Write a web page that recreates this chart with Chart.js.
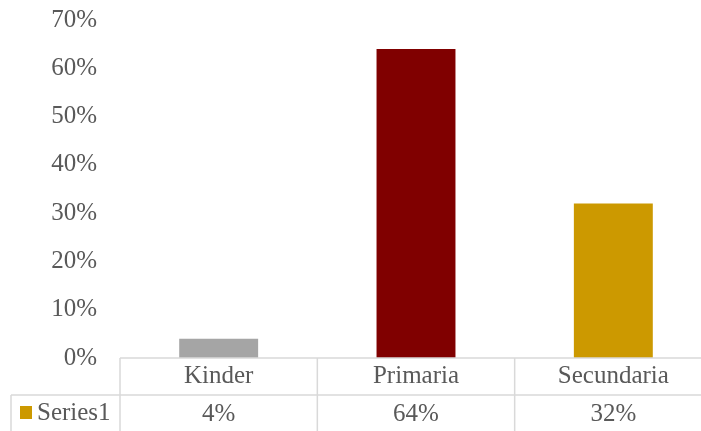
<!DOCTYPE html>
<html>
<head>
<meta charset="utf-8">
<script src="https://cdn.jsdelivr.net/npm/chart.js@4"></script>
<style>
  html, body { margin: 0; padding: 0; background: #fff; overflow: hidden; }
</style>
</head>
<body>
<canvas id="myChart" width="712" height="431"></canvas>
<script>
// data
const categories = ["Kinder", "Primaria", "Secundaria"];
const seriesName = "Series1";
const values = [0.04, 0.64, 0.32];
const valueLabels = ["4%", "64%", "32%"];
const barColors = ['#A5A5A5', '#800000', '#CC9900'];
const legendColor = '#CC9900';

const textColor = '#595959';
const lineColor = '#D9D9D9';
const fontFamily = '"Liberation Serif", serif';

// draws the data table under the bars
const dataTable = {
  id: 'dataTable',
  afterDraw(chart) {
    const ctx = chart.ctx;
    const x = chart.scales.x;
    const top = chart.chartArea.bottom;
    const rowH = 37;
    const mid = top + rowH;
    const bottom = chart.height;
    const half = (x.right - x.left) / categories.length / 2;

    ctx.save();
    ctx.strokeStyle = lineColor;
    ctx.lineWidth = 1.5;
    ctx.beginPath();
    ctx.moveTo(x.left, top); ctx.lineTo(x.right, top);
    ctx.moveTo(11, mid); ctx.lineTo(x.right, mid);
    ctx.moveTo(11, mid); ctx.lineTo(11, bottom);
    for (let i = 0; i < categories.length; i++) {
      const c = x.getPixelForValue(i);
      ctx.moveTo(c - half, top); ctx.lineTo(c - half, bottom);
      ctx.moveTo(c + half, top); ctx.lineTo(c + half, bottom);
    }
    ctx.stroke();

    ctx.fillStyle = textColor;
    ctx.font = '25px ' + fontFamily;
    ctx.textAlign = 'center';
    ctx.textBaseline = 'middle';
    for (let i = 0; i < categories.length; i++) {
      const c = x.getPixelForValue(i);
      ctx.fillText(categories[i], c, top + rowH / 2);
      ctx.fillText(valueLabels[i], c, mid + 19);
    }
    ctx.textAlign = 'left';
    ctx.fillText(seriesName, 37, mid + 18);
    ctx.fillStyle = legendColor;
    ctx.fillRect(20, mid + 11, 12, 13);
    ctx.restore();
  }
};

const chart1 = new Chart(document.getElementById('myChart').getContext('2d'), {
  type: 'bar',
  data: {
    labels: categories,
    datasets: [{
      label: seriesName,
      data: values,
      backgroundColor: barColors,
      categoryPercentage: 1,
      barPercentage: 0.4
    }]
  },
  options: {
    responsive: false,
    animation: false,
    layout: { padding: 0 },
    plugins: {
      legend: { display: false },
      tooltip: { enabled: false }
    },
    scales: {
      x: {
        grid: { display: false },
        border: { display: false },
        ticks: { display: false },
        afterFit(scale) { scale.height = 73; }
      },
      y: {
        min: 0,
        max: 0.7,
        grid: { display: false, drawTicks: false },
        border: { display: false },
        ticks: {
          stepSize: 0.1,
          padding: 23,
          color: textColor,
          font: { family: fontFamily, size: 25 },
          callback: v => Math.round(v * 100) + '%'
        },
        afterFit(scale) {
          scale.width = 120;
          scale.paddingTop = 20;
          scale.paddingBottom = 0;
        }
      }
    }
  },
  plugins: [dataTable]
});
</script>
</body>
</html>
